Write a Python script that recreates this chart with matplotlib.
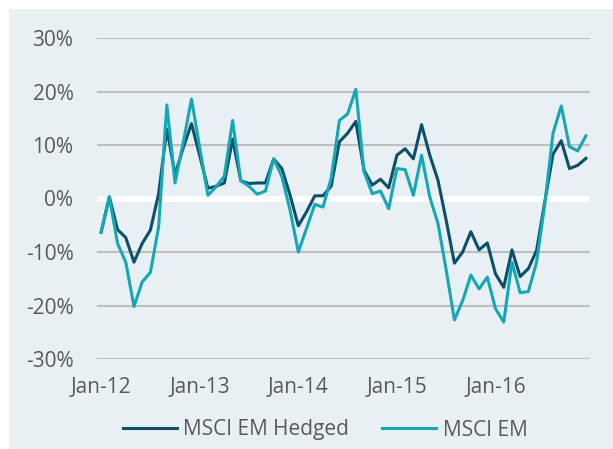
import matplotlib.pyplot as plt

# monthly returns (%), Jan-12 .. Dec-16
hedged = [-6.3, 0.3, -5.8, -7.3, -11.9, -8.4, -5.9, 0.9, 13.0, 4.5,
          9.5, 14.0, 8.0, 1.9, 2.3, 2.9, 11.1, 3.3, 2.8, 2.9,
          2.9, 7.4, 5.6, 0.6, -5.1, -2.5, 0.5, 0.5, 2.3, 10.6,
          12.2, 14.4, 5.3, 2.5, 3.6, 2.0, 8.1, 9.3, 7.4, 13.8,
          8.1, 3.4, -4.1, -12.1, -10.0, -6.2, -9.6, -8.3, -14.1, -16.6,
          -9.6, -14.6, -13.1, -9.7, -0.6, 8.3, 10.8, 5.6, 6.2, 7.5]
msci_em = [-6.3, 0.3, -8.4, -11.9, -20.2, -15.6, -13.8, -5.3, 17.5, 2.9,
           10.5, 18.6, 9.5, 0.6, 2.2, 4.2, 14.6, 3.3, 2.3, 0.8,
           1.4, 7.4, 4.1, -2.2, -10.0, -5.6, -1.1, -1.6, 3.8, 14.6,
           15.8, 20.4, 5.0, 0.9, 1.4, -1.9, 5.6, 5.4, 0.6, 8.1,
           0.3, -4.7, -13.4, -22.7, -19.1, -14.3, -16.9, -14.7, -20.6, -23.1,
           -11.9, -17.6, -17.4, -11.9, -1.0, 12.2, 17.3, 9.7, 8.9, 11.7]
tick_pos = [0, 12, 24, 36, 48]
tick_labels = ['Jan-12', 'Jan-13', 'Jan-14', 'Jan-15', 'Jan-16']
y_ticks = [-30, -20, -10, 0, 10, 20, 30]

bg = '#e8f0f3'
txt = '#595959'
plt.rcParams['font.family'] = ['Open Sans', 'DejaVu Sans']

fig = plt.figure(figsize=(6.13, 4.49), dpi=100)
# shaded chart area (white margin on top and left)
back = fig.add_axes([9/613, 0, 1 - 9/613, 1 - 9/449], zorder=-1)
back.set_axis_off()
back.add_patch(plt.Rectangle((0, 0), 1, 1, transform=back.transAxes, color=bg))

ax = fig.add_axes([97/613, 90/449, 493/613, 321/449])
ax.patch.set_alpha(0)

x = list(range(len(hedged)))
for v in y_ticks:
    if v == 0:
        ax.axhline(v, color='white', lw=4.3, zorder=1)
    else:
        ax.axhline(v, color='#bfbfbf', lw=1.5, zorder=1)
ax.plot(x, hedged, color='#0c4f69', lw=2.2, label='MSCI EM Hedged', zorder=3)
ax.plot(x, msci_em, color='#14a8b6', lw=2.2, label='MSCI EM', zorder=3)

ax.set_xlim(-0.5, len(hedged) - 0.5)
ax.set_ylim(-30, 30)
ax.set_yticks(y_ticks)
ax.set_yticklabels([f'{v}%' for v in y_ticks])
ax.set_xticks(tick_pos)
ax.set_xticklabels(tick_labels)
ax.tick_params(axis='both', length=0, labelsize=15, labelcolor=txt)
ax.tick_params(axis='y', pad=17)
ax.tick_params(axis='x', pad=13)
for s in ax.spines.values():
    s.set_visible(False)

fig.legend(loc='center', bbox_to_anchor=(325/613, 1 - 430/449), ncol=2,
           frameon=False, fontsize=15, labelcolor=txt, handlelength=2.6,
           handletextpad=0.3, columnspacing=1.6)

fig.savefig('out.png', dpi=100)
